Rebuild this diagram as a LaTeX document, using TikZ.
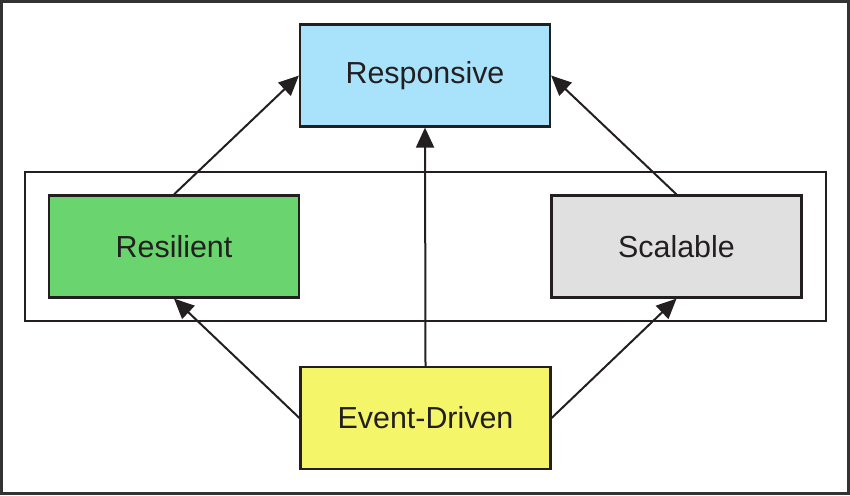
\documentclass[tikz,border=0pt]{standalone}
\usepackage{fontspec}
\setmainfont{Liberation Sans}
\usetikzlibrary{arrows.meta}
\definecolor{respblue}{HTML}{A9E2FB}
\definecolor{resgreen}{HTML}{6AD46E}
\definecolor{scalgray}{HTML}{E0E0E0}
\definecolor{evyellow}{HTML}{F5F56A}
\definecolor{linecol}{HTML}{231F20}
\begin{document}
\begin{tikzpicture}[x=1pt,y=-1pt,
  box/.style={draw=linecol,line width=2.2pt,minimum width=250pt,minimum height=102pt,inner sep=0pt,
    font=\fontsize{30.4}{35}\selectfont,text=linecol},
  conn/.style={draw=linecol,line width=2pt,-{Triangle[length=20pt,width=18pt]}},
  plain/.style={draw=linecol,line width=2pt}]
\useasboundingbox (0,0) rectangle (850,495);
\draw[draw=black!80,line width=3pt] (1.5,1.5) rectangle (848.5,493.5);
\node[draw=linecol,line width=2.2pt,minimum width=801pt,minimum height=149pt,inner sep=0pt] (group) at (425.5,246.5) {};
\node[box,fill=respblue] (resp) at (425,75.5) {Responsive};
\node[box,fill=resgreen] (resil) at (174,246.5) {Resilient};
\node[box,fill=scalgray] (scal) at (676.5,246.5) {Scalable};
\node[box,fill=evyellow] (event) at (425.5,418) {Event-Driven};
\draw[conn] (resil.north) -- (resp.west);
\draw[conn] (scal.north) -- (resp.east);
\draw[conn] (event.north) -- (resp.south);
\draw[conn] (event.west) -- (resil.south);
\draw[conn] (event.east) -- (scal.south);
\end{tikzpicture}
\end{document}
